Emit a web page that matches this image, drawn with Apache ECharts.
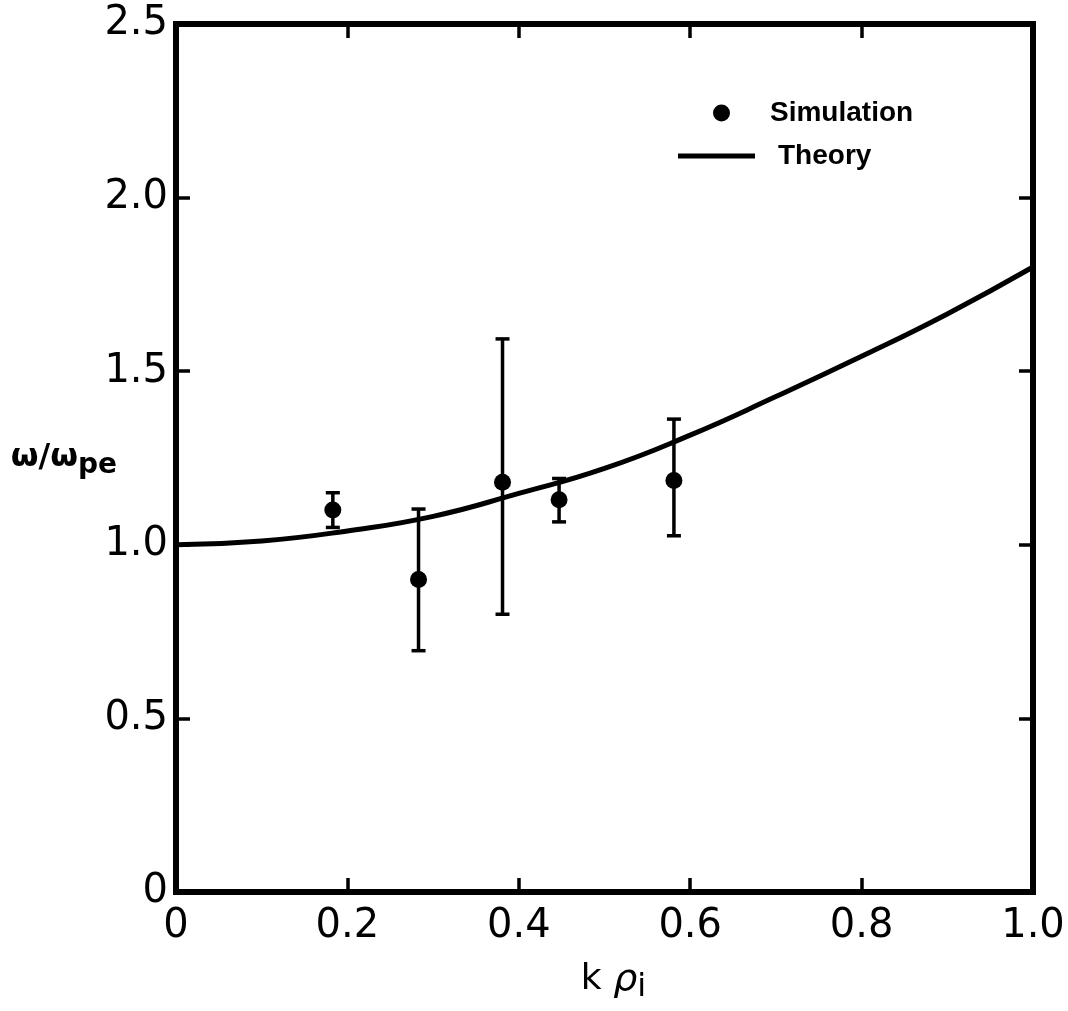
<!DOCTYPE html>
<html>
<head>
<meta charset="utf-8">
<script src="https://cdn.jsdelivr.net/npm/echarts@6/dist/echarts.min.js"></script>
<style>
html,body{margin:0;padding:0;background:#fff;}
#chart{width:1068px;height:1011px;}
</style>
</head>
<body>
<div id="chart"></div>
<script>
// ---- data ----
const xTicks = [0, 0.2, 0.4, 0.6, 0.8, 1.0];
const yTicks = [0, 0.5, 1.0, 1.5, 2.0, 2.5];

const theoryX = [0, 0.1, 0.2, 0.3, 0.4, 0.5, 0.6, 0.7, 0.8, 0.9, 1.0];
const theoryY = [1.000, 1.011, 1.040, 1.082, 1.148, 1.220, 1.316, 1.427, 1.543, 1.665, 1.800];

const simX    = [0.183, 0.283, 0.381, 0.447, 0.581];
const simY    = [1.10, 0.90, 1.18, 1.13, 1.185];
const errLow  = [1.05, 0.695, 0.80, 1.066, 1.026];
const errHigh = [1.15, 1.103, 1.593, 1.191, 1.362];

// ---- chart ----
const chart = echarts.init(document.getElementById('chart'), null, {renderer: 'canvas'});
const tickFont = 'DejaVu Sans';
const fmt = v => (v === 0 ? '0' : v.toFixed(1));

function tickCfg() {
  return {show: true, inside: true, length: 14, lineStyle: {color: '#000', width: 3.5}};
}
function xAx(extra) {
  return Object.assign({
    type: 'value', min: xTicks[0], max: xTicks[xTicks.length - 1], interval: 0.2,
    axisLine: {show: true, onZero: false, lineStyle: {color: '#000', width: 6}},
    axisTick: tickCfg(),
    splitLine: {show: false}
  }, extra);
}
function yAx(extra) {
  return Object.assign({
    type: 'value', min: yTicks[0], max: yTicks[yTicks.length - 1], interval: 0.5,
    axisLine: {show: true, onZero: false, lineStyle: {color: '#000', width: 6}},
    axisTick: tickCfg(),
    splitLine: {show: false}
  }, extra);
}

const option = {
  backgroundColor: '#fff',
  animation: false,
  grid: {left: 176, top: 24, right: 35, bottom: 119, containLabel: false, outerBoundsMode: 'none',
         show: true, borderColor: '#000', borderWidth: 6, backgroundColor: 'transparent'},
  xAxis: [
    xAx({
      position: 'bottom',
      axisLabel: {show: true, formatter: fmt, color: '#000', fontSize: 40, fontFamily: tickFont, margin: 15, showMaxLabel: true, showMinLabel: true},
      name: 'k {r|ρ}{s|i}',
      nameLocation: 'middle',
      nameGap: 64,
      nameTextStyle: {
        color: '#000', fontSize: 36, fontFamily: tickFont, verticalAlign: 'top', padding: [0, 0, 0, 18],
        rich: {
          r: {fontSize: 38, fontStyle: 'italic', fontFamily: tickFont, color: '#000'},
          s: {fontSize: 32, fontFamily: tickFont, color: '#000', padding: [16, 0, 0, 0]}
        }
      }
    }),
    xAx({position: 'top', axisLabel: {show: false}})
  ],
  yAxis: [
    yAx({
      position: 'left',
      axisLabel: {show: true, formatter: fmt, color: '#000', fontSize: 40, fontFamily: tickFont, margin: 8, showMaxLabel: true, showMinLabel: true},
      name: '{a|ω/ω}{b|pe}',
      nameLocation: 'middle',
      nameRotate: 0,
      nameGap: 59,
      nameMoveOverlap: false,
      nameTextStyle: {
        align: 'right', verticalAlign: 'middle', color: '#000',
        rich: {
          a: {fontSize: 32, fontWeight: 'bold', fontFamily: tickFont, color: '#000'},
          b: {fontSize: 28, fontWeight: 'bold', fontFamily: tickFont, color: '#000', padding: [16, 0, 0, 0]}
        }
      }
    }),
    yAx({position: 'right', axisLabel: {show: false}})
  ],
  legend: [
    {
      data: [{name: 'Simulation', icon: 'circle', itemStyle: {color: '#000', opacity: 1}}],
      left: 708, top: 94,
      itemWidth: 17, itemHeight: 17,
      textStyle: {fontSize: 28, fontWeight: 'bold', fontFamily: 'Liberation Sans', color: '#000', padding: [0, 0, 0, 35]}
    },
    {
      data: [{name: 'Theory', icon: 'rect', itemStyle: {color: '#000', opacity: 1}}],
      left: 673, top: 137,
      itemWidth: 77, itemHeight: 5,
      textStyle: {fontSize: 28, fontWeight: 'bold', fontFamily: 'Liberation Sans', color: '#000', padding: [0, 0, 0, 18]}
    }
  ],
  series: [
    {
      name: 'Theory',
      type: 'line',
      smooth: true,
      showSymbol: false,
      data: theoryX.map((x, i) => [x, theoryY[i]]),
      lineStyle: {color: '#000', width: 5},
      itemStyle: {color: '#000'},
      z: 2
    },
    {
      name: 'errors',
      type: 'custom',
      data: simX.map((x, i) => [x, errLow[i], errHigh[i]]),
      renderItem: function (params, api) {
        const lo = api.coord([api.value(0), api.value(1)]);
        const hi = api.coord([api.value(0), api.value(2)]);
        const hw = 7;
        const style = {stroke: '#000', lineWidth: 3.5};
        return {
          type: 'group',
          children: [
            {type: 'line', shape: {x1: lo[0], y1: lo[1], x2: hi[0], y2: hi[1]}, style: style},
            {type: 'line', shape: {x1: lo[0] - hw, y1: lo[1], x2: lo[0] + hw, y2: lo[1]}, style: style},
            {type: 'line', shape: {x1: hi[0] - hw, y1: hi[1], x2: hi[0] + hw, y2: hi[1]}, style: style}
          ]
        };
      },
      z: 3
    },
    {
      name: 'Simulation',
      type: 'scatter',
      symbol: 'circle',
      symbolSize: 17,
      data: simX.map((x, i) => [x, simY[i]]),
      itemStyle: {color: '#000', opacity: 1},
      z: 4
    }
  ]
};
chart.setOption(option);
</script>
</body>
</html>
